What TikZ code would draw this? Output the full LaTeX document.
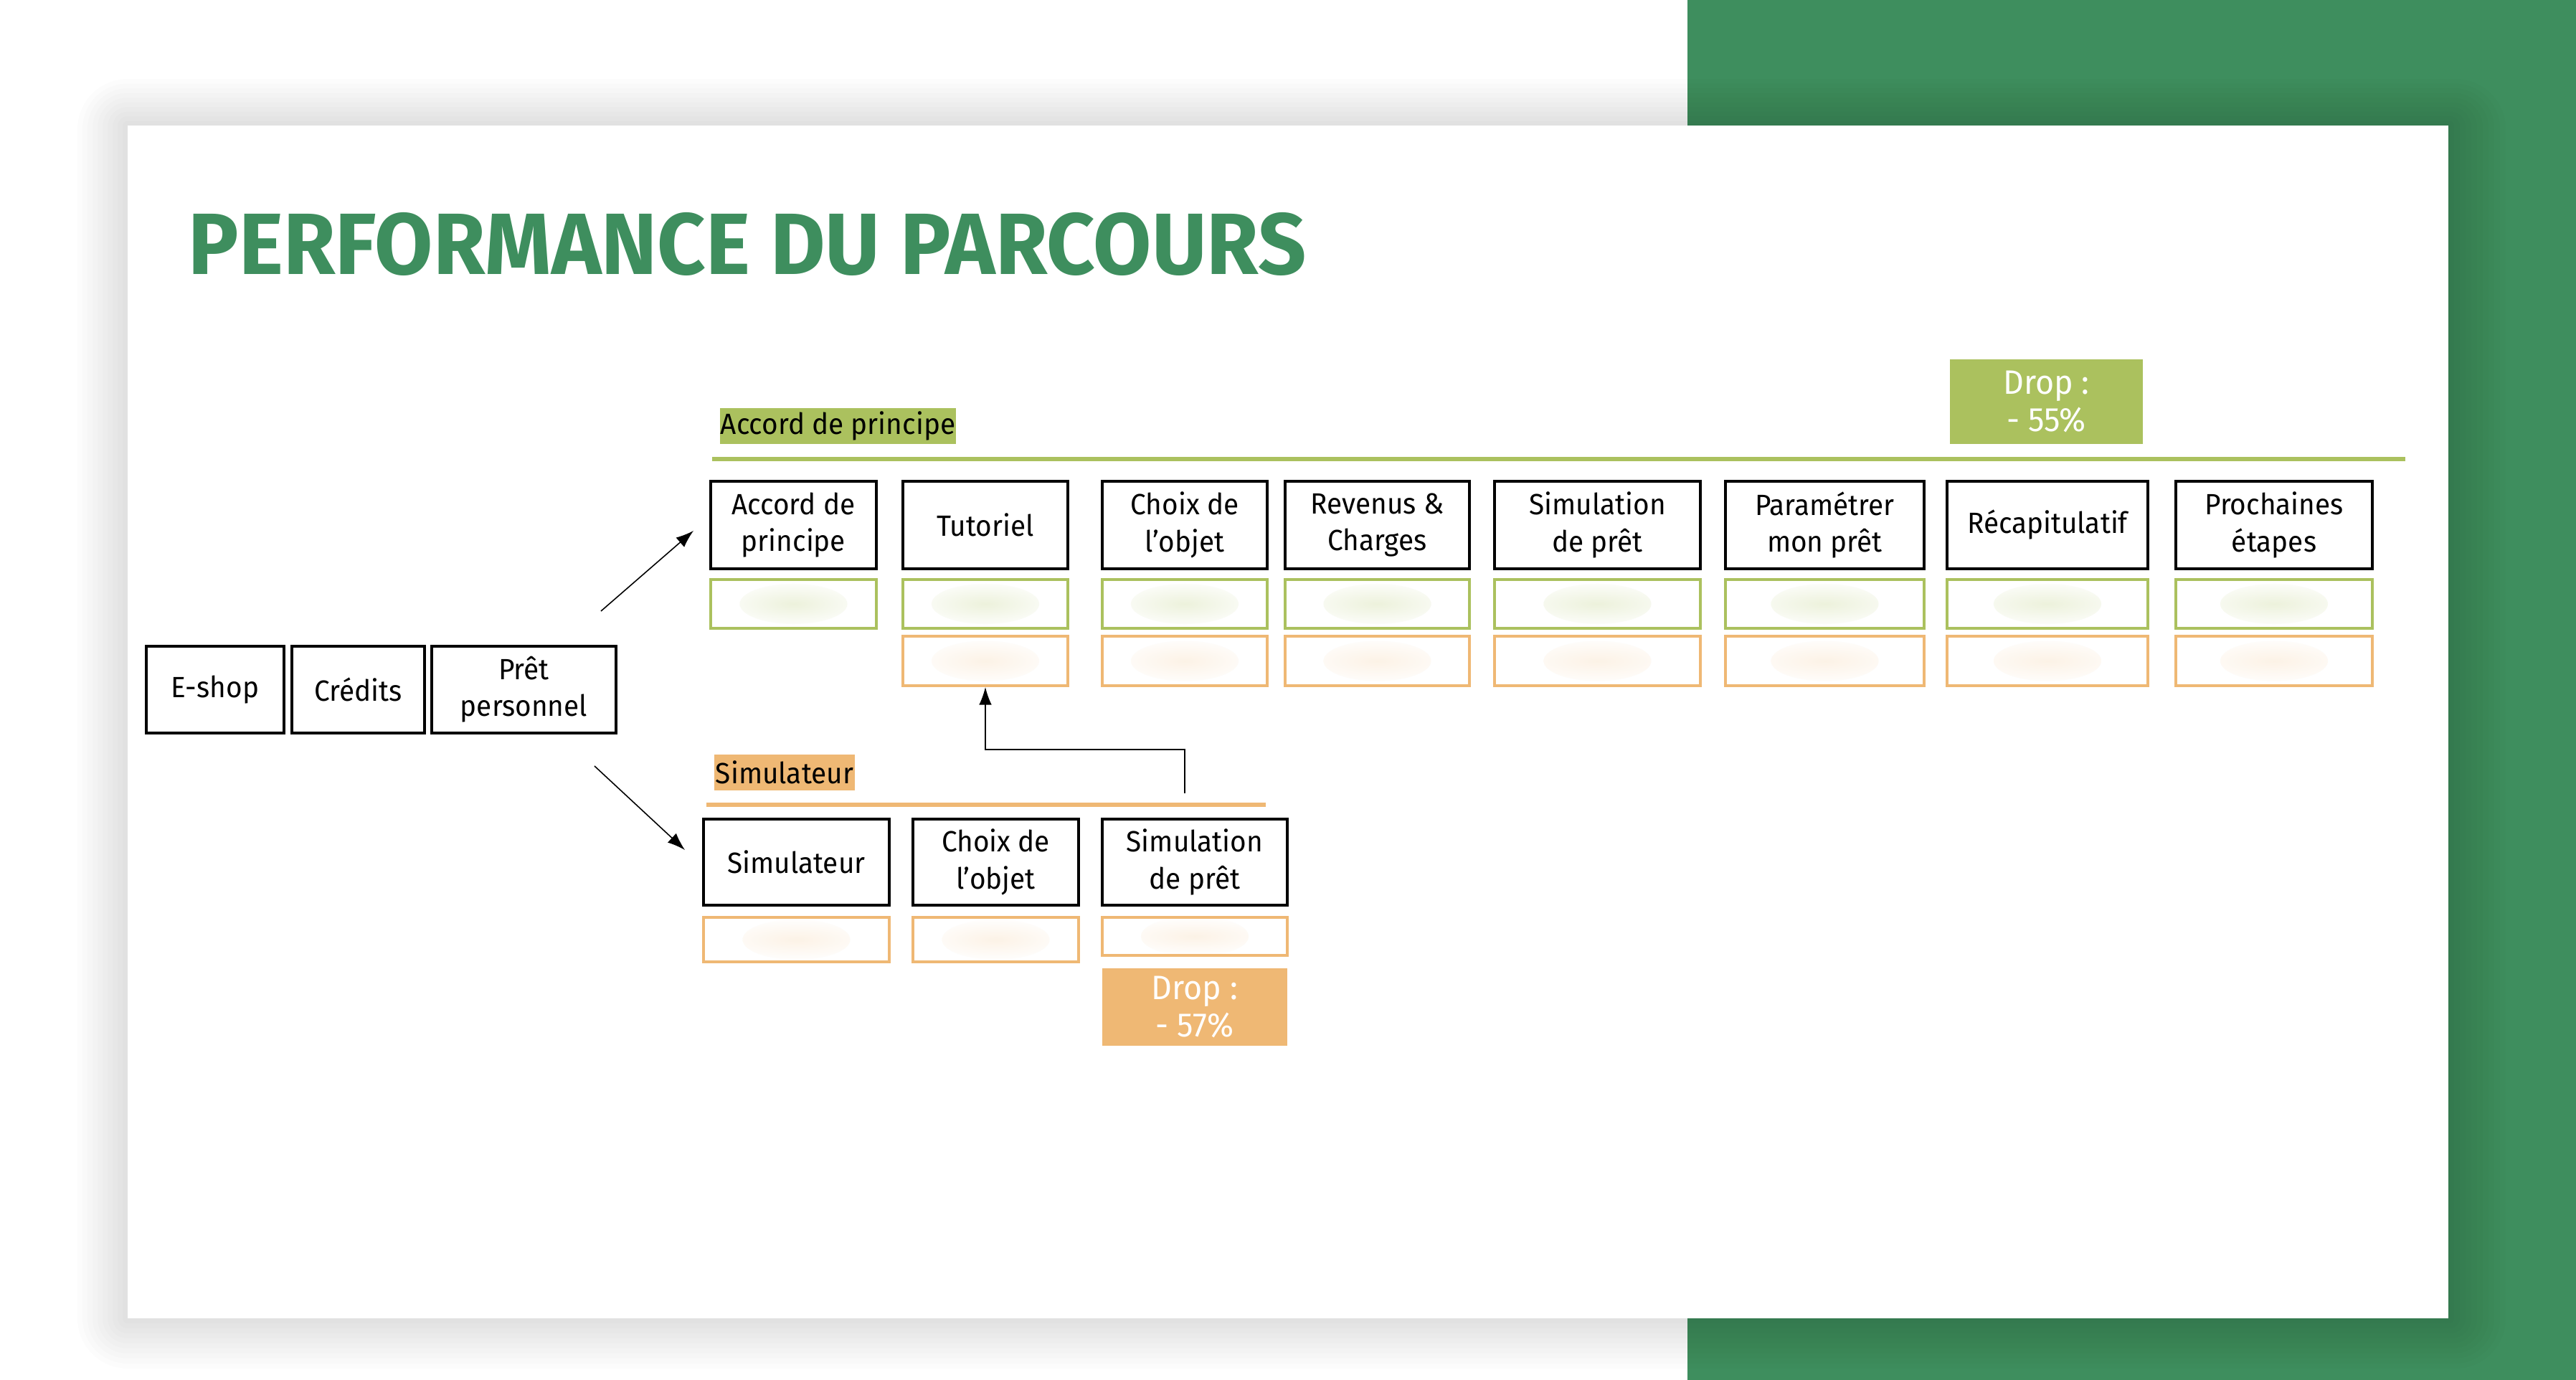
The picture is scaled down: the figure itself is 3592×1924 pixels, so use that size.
\documentclass[tikz,border=0pt]{standalone}
\usepackage{fontspec}
\setmainfont{Fira Sans}[FakeStretch=0.95]
\newfontfamily\titlefont{Fira Sans}[FakeStretch=0.97]
\usetikzlibrary{arrows.meta}
\definecolor{dkgreen}{HTML}{3E8E5E}
\definecolor{ltgreen}{HTML}{ABC15E}
\definecolor{ltorange}{HTML}{EFB874}
\tikzset{
  stepbox/.style={draw=black, line width=1pt, fill=white, align=center, inner sep=0pt,
    font=\fontsize{11.6}{14.6}\selectfont, text=black},
  greenrow/.style={draw=ltgreen, line width=1.1pt, fill=white, inner sep=0pt, minimum height=0.68cm,
    path picture={\shade[inner color=ltgreen!22, outer color=white] (path picture bounding box.center) ellipse (0.75cm and 0.28cm);}},
  orangerow/.style={draw=ltorange, line width=1.1pt, fill=white, inner sep=0pt, minimum height=0.69cm,
    path picture={\shade[inner color=ltorange!18, outer color=white] (path picture bounding box.center) ellipse (0.75cm and 0.28cm);}},
  tagbox/.style={inner sep=0pt, font=\fontsize{11.6}{14.2}\selectfont, text=black, minimum height=0.5cm},
  dropbox/.style={inner sep=0pt, align=center, text=white, font=\fontsize{13.4}{14.8}\selectfont},
  arr/.style={line width=0.45pt, -{Latex[length=7pt,width=5pt]}},
}
\begin{document}
\begin{tikzpicture}[x=0.01cm,y=-0.01cm]
\useasboundingbox (0,0) rectangle (3592,1924);
\fill[white] (0,0) rectangle (3592,1924);
\fill[dkgreen] (2353,0) rectangle (3592,1924);
% shadow
\foreach \i in {1,...,10}{
  \fill[black, opacity=0.013, rounded corners=\i*0.07cm] (178-\i*7,175-\i*6.5) rectangle (3414+\i*8,1838+\i*7);
}
\fill[white] (178,175) rectangle (3414,1838);
% title
\node[anchor=base west, inner sep=0pt, text=dkgreen, font=\titlefont\bfseries\fontsize{34.5}{40}\selectfont] (title) at (262,382) {PERFORMANCE DU PARCOURS};

% section labels and lines
\node[tagbox, fill=ltgreen, minimum width=3.29cm] (lblA) at (1168.5,594) {Accord de principe};
\draw[ltgreen, line width=1.7pt] (993,640) -- (3354,640);
\node[tagbox, fill=ltorange, minimum width=1.96cm] (lblS) at (1094,1077) {Simulateur};
\draw[ltorange, line width=1.7pt] (985,1122) -- (1765,1122);

% left boxes
\node[stepbox, minimum width=1.92cm, minimum height=1.21cm] (eshop) at (300,961.5) {E-shop};
\node[stepbox, minimum width=1.85cm, minimum height=1.21cm] (credits) at (499.5,961.5) {Crédits};
\node[stepbox, minimum width=2.57cm, minimum height=1.21cm] (pret) at (730.5,961.5) {Prêt\\personnel};

% top row
\node[stepbox, minimum width=2.31cm, minimum height=1.22cm] (a1) at (1106.5,732) {Accord de\\principe};
\node[stepbox, minimum width=2.30cm, minimum height=1.22cm] (a2) at (1374,732) {Tutoriel};
\node[stepbox, minimum width=2.30cm, minimum height=1.22cm] (a3) at (1652,732) {Choix de\\l’objet};
\node[stepbox, minimum width=2.57cm, minimum height=1.22cm] (a4) at (1920.5,732) {Revenus \&\\Charges};
\node[stepbox, minimum width=2.87cm, minimum height=1.22cm] (a5) at (2227.5,732) {Simulation\\de prêt};
\node[stepbox, minimum width=2.77cm, minimum height=1.22cm] (a6) at (2544.5,732) {Paramétrer\\mon prêt};
\node[stepbox, minimum width=2.80cm, minimum height=1.22cm] (a7) at (2855,732) {Récapitulatif};
\node[stepbox, minimum width=2.74cm, minimum height=1.22cm] (a8) at (3171,732) {Prochaines\\étapes};

% green rows
\node[greenrow, minimum width=2.31cm] (g1) at (1106.5,842) {};
\node[greenrow, minimum width=2.30cm] (g2) at (1374,842) {};
\node[greenrow, minimum width=2.30cm] (g3) at (1652,842) {};
\node[greenrow, minimum width=2.57cm] (g4) at (1920.5,842) {};
\node[greenrow, minimum width=2.87cm] (g5) at (2227.5,842) {};
\node[greenrow, minimum width=2.77cm] (g6) at (2544.5,842) {};
\node[greenrow, minimum width=2.80cm] (g7) at (2855,842) {};
\node[greenrow, minimum width=2.74cm] (g8) at (3171,842) {};

% orange rows
\node[orangerow, minimum width=2.30cm] (o2) at (1374,921.5) {};
\node[orangerow, minimum width=2.30cm] (o3) at (1652,921.5) {};
\node[orangerow, minimum width=2.57cm] (o4) at (1920.5,921.5) {};
\node[orangerow, minimum width=2.87cm] (o5) at (2227.5,921.5) {};
\node[orangerow, minimum width=2.77cm] (o6) at (2544.5,921.5) {};
\node[orangerow, minimum width=2.80cm] (o7) at (2855,921.5) {};
\node[orangerow, minimum width=2.74cm] (o8) at (3171,921.5) {};

% top drop
\node[dropbox, fill=ltgreen, minimum width=2.69cm, minimum height=1.18cm] (dropA) at (2853.5,560) {Drop :\\- 55\%};

% bottom row
\node[stepbox, minimum width=2.59cm, minimum height=1.20cm] (s1) at (1110.5,1202) {Simulateur};
\node[stepbox, minimum width=2.31cm, minimum height=1.20cm] (s2) at (1388.5,1202) {Choix de\\l’objet};
\node[stepbox, minimum width=2.58cm, minimum height=1.20cm] (s3) at (1666,1202) {Simulation\\de prêt};
\node[orangerow, minimum width=2.59cm, minimum height=0.62cm] (so1) at (1110.5,1310) {};
\node[orangerow, minimum width=2.31cm, minimum height=0.62cm] (so2) at (1388.5,1310) {};
\node[orangerow, minimum width=2.58cm, minimum height=0.53cm] (so3) at (1666,1305.5) {};
\node[dropbox, fill=ltorange, minimum width=2.58cm, minimum height=1.08cm] (dropS) at (1666,1404) {Drop :\\- 57\%};

% connectors
\coordinate (upS) at (838,852);
\coordinate (upE) at (967,740);
\coordinate (dnS) at (829,1068);
\coordinate (dnE) at (955,1185);
\draw[arr] (upS) -- (upE);
\draw[arr] (dnS) -- (dnE);
\coordinate (lnk) at (1652,1106);
\draw[arr] (lnk) -- (1652,1045) -| (o2.south);
\end{tikzpicture}
\end{document}
